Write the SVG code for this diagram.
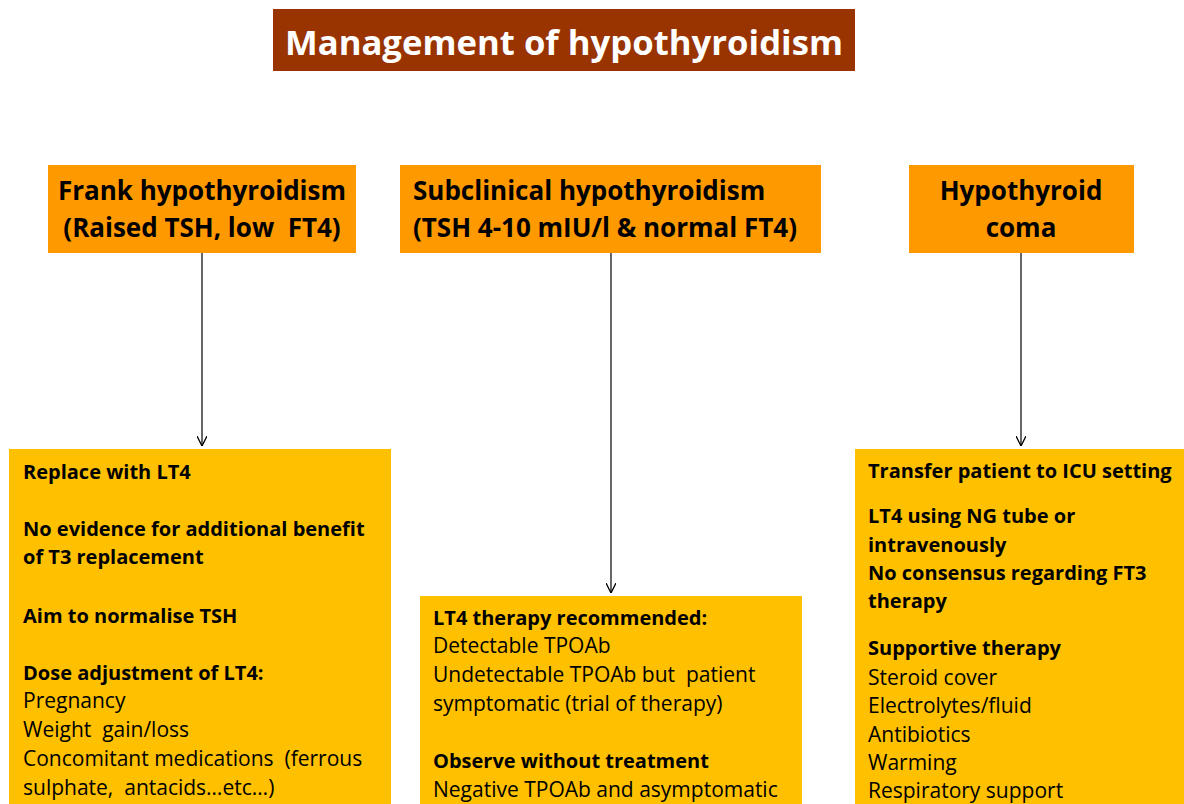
<svg xmlns="http://www.w3.org/2000/svg" width="1184" height="804" viewBox="0 0 1184 804">
<defs>
<style>
text{font-family:"Open Sans","Noto Sans","Liberation Sans",sans-serif;fill:#000}
.title{font-size:34.7px;font-weight:bold;fill:#fff}
.hdr{font-size:26px;font-weight:bold}
.b{font-size:20px;font-weight:bold}
.r{font-size:21px}
.hbox{fill:#FF9900}
.bbox{fill:#FFC000}
.conn{stroke:#000;stroke-width:1.2;fill:none}
</style>
<marker id="arr" viewBox="0 0 10 10" refX="10" refY="5" markerWidth="10" markerHeight="10" markerUnits="userSpaceOnUse" orient="auto">
<path d="M0,0 L10,5 L0,10" fill="none" stroke="#000" stroke-width="1.3"/>
</marker>
</defs>
<rect width="1184" height="804" fill="#fff"/>

<g id="title">
<rect x="273" y="9" width="582" height="62" fill="#993300"/>
<text class="title" x="564" y="55" text-anchor="middle">Management of hypothyroidism</text>
</g>

<g id="connectors">
<line class="conn" x1="202" y1="253" x2="202" y2="446" marker-end="url(#arr)"/>
<line class="conn" x1="611" y1="253" x2="611" y2="593" marker-end="url(#arr)"/>
<line class="conn" x1="1021" y1="253" x2="1021" y2="446" marker-end="url(#arr)"/>
</g>

<g id="frank">
<rect class="hbox" x="48" y="165" width="308" height="88"/>
<text class="hdr" x="202" y="200" text-anchor="middle">Frank hypothyroidism</text>
<text class="hdr" x="202" y="237" text-anchor="middle" xml:space="preserve">(Raised TSH, low  FT4)</text>
</g>

<g id="subclinical">
<rect class="hbox" x="400" y="165" width="421" height="88"/>
<text class="hdr" x="413" y="200">Subclinical hypothyroidism</text>
<text class="hdr" x="413" y="237">(TSH 4-10 mIU/l &amp; normal FT4)</text>
</g>

<g id="coma">
<rect class="hbox" x="909" y="165" width="225" height="88"/>
<text class="hdr" x="1021" y="200" text-anchor="middle">Hypothyroid</text>
<text class="hdr" x="1021" y="237" text-anchor="middle">coma</text>
</g>

<g id="frank-mgmt">
<rect class="bbox" x="9" y="449" width="382" height="355"/>
<text class="b" x="23" y="479">Replace with LT4</text>
<text class="b" x="23" y="536">No evidence for additional benefit</text>
<text class="b" x="23" y="564">of T3 replacement</text>
<text class="b" x="23" y="623">Aim to normalise TSH</text>
<text class="b" x="23" y="680">Dose adjustment of LT4:</text>
<text class="r" x="23" y="708">Pregnancy</text>
<text class="r" x="23" y="737" xml:space="preserve">Weight  gain/loss</text>
<text class="r" x="23" y="766" xml:space="preserve">Concomitant medications  (ferrous</text>
<text class="r" x="23" y="795" xml:space="preserve">sulphate,  antacids…etc…)</text>
</g>

<g id="subclinical-mgmt">
<rect class="bbox" x="420" y="596" width="382" height="208"/>
<text class="b" x="433" y="625">LT4 therapy recommended:</text>
<text class="r" x="433" y="653">Detectable TPOAb</text>
<text class="r" x="433" y="682" xml:space="preserve">Undetectable TPOAb but  patient</text>
<text class="r" x="433" y="711">symptomatic (trial of therapy)</text>
<text class="b" x="433" y="768">Observe without treatment</text>
<text class="r" x="433" y="797">Negative TPOAb and asymptomatic</text>
</g>

<g id="coma-mgmt">
<rect class="bbox" x="855" y="449" width="329" height="355"/>
<text class="b" x="868" y="478">Transfer patient to ICU setting</text>
<text class="b" x="868" y="523">LT4 using NG tube or</text>
<text class="b" x="868" y="552">intravenously</text>
<text class="b" x="868" y="580">No consensus regarding FT3</text>
<text class="b" x="868" y="608">therapy</text>
<text class="b" x="868" y="655">Supportive therapy</text>
<text class="r" x="868" y="685">Steroid cover</text>
<text class="r" x="868" y="713">Electrolytes/fluid</text>
<text class="r" x="868" y="742">Antibiotics</text>
<text class="r" x="868" y="770">Warming</text>
<text class="r" x="868" y="798">Respiratory support</text>
</g>
</svg>
